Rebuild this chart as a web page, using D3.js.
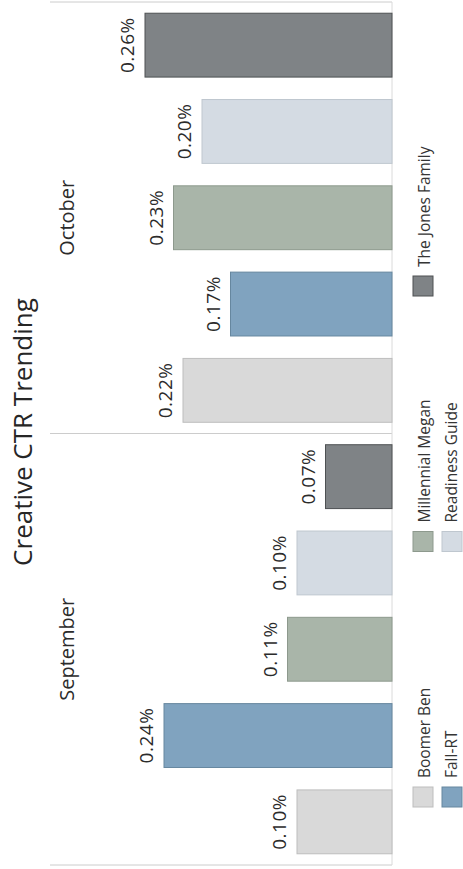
<!DOCTYPE html>
<html>
<head>
<meta charset="utf-8">
<script src="https://cdn.jsdelivr.net/npm/d3@7"></script>
<style>
  body { margin: 0; background: #fff; }
  text { font-family: "Open Sans", "Noto Sans", sans-serif; fill: #2b2b2b; }
</style>
</head>
<body>
<svg id="chart" width="463" height="869"></svg>
<script>
// Monthly click-through rate (%) per creative
const months = ["September", "October"];
const creatives = ["Boomer Ben", "Fall-RT", "Millennial Megan", "Readiness Guide", "The Jones Family"];
const septemberCTR = [0.10, 0.24, 0.11, 0.10, 0.07];
const octoberCTR = [0.22, 0.17, 0.23, 0.20, 0.26];
const fillColors = ["#d9d9d9", "#80a3bf", "#a9b5a9", "#d4dbe3", "#7f8386"];
const edgeColors = ["#bdbdbd", "#66879f", "#8d998d", "#bfc7cf", "#4e5153"];

const monthValues = { September: septemberCTR, October: octoberCTR };
const rows = months.flatMap(m => creatives.map((c, i) => ({ month: m, creative: c, value: monthValues[m][i], idx: i })));

const W = 869, H = 463;            // landscape frame, turned to read bottom-up
const svg = d3.select("#chart");
const g = svg.append("g").attr("transform", `translate(0,${W}) rotate(-90)`);

const x0 = d3.scaleBand().domain(months).range([4, 867]).padding(0);
const x1 = d3.scaleBand().domain(creatives).range([0, x0.bandwidth()])
  .paddingInner(0.26).paddingOuter(0.13);
const y = d3.scaleLinear().domain([0, 0.36]).range([392, 50]);

// pane dividers and baseline
const dividers = [x0.range()[0], x0("October"), x0.range()[1]];
g.selectAll("line.divider").data(dividers).join("line")
  .attr("class", "divider")
  .attr("x1", d => d).attr("x2", d => d)
  .attr("y1", y.range()[1]).attr("y2", y(0))
  .attr("stroke", "#cccccc").attr("stroke-width", 1);
g.append("line")
  .attr("x1", x0.range()[0]).attr("x2", x0.range()[1])
  .attr("y1", y(0)).attr("y2", y(0))
  .attr("stroke", "#dadada").attr("stroke-width", 1);

// title
g.append("text")
  .attr("x", 437).attr("y", 32)
  .attr("text-anchor", "middle")
  .attr("font-size", 26)
  .style("fill", "#262626")
  .text("Creative CTR Trending");

// month headers
g.selectAll("text.month").data(months).join("text")
  .attr("class", "month")
  .attr("x", d => x0(d) + x0.bandwidth() / 2)
  .attr("y", 74)
  .attr("text-anchor", "middle")
  .attr("font-size", 20)
  .text(d => d);

// bars
g.selectAll("rect.bar").data(rows).join("rect")
  .attr("class", "bar")
  .attr("x", d => x0(d.month) + x1(d.creative))
  .attr("width", x1.bandwidth())
  .attr("y", d => y(d.value))
  .attr("height", d => y(0) - y(d.value))
  .attr("fill", d => fillColors[d.idx])
  .attr("stroke", d => edgeColors[d.idx])
  .attr("stroke-width", 1);

// value labels
g.selectAll("text.value").data(rows).join("text")
  .attr("class", "value")
  .attr("x", d => x0(d.month) + x1(d.creative) + x1.bandwidth() / 2)
  .attr("y", d => y(d.value) - 11)
  .attr("text-anchor", "middle")
  .attr("font-size", 19)
  .style("letter-spacing", "0.5px")
  .text(d => d.value.toFixed(2) + "%");

// legend, filled column by column, two rows
const legend = g.selectAll("g.legend").data(creatives).join("g")
  .attr("class", "legend")
  .attr("transform", (d, i) => `translate(${62 + Math.floor(i / 2) * 255.5},${413 + (i % 2) * 29})`);
legend.append("rect")
  .attr("width", 20).attr("height", 20)
  .attr("fill", (d, i) => fillColors[i])
  .attr("stroke", (d, i) => edgeColors[i])
  .attr("stroke-width", 1);
legend.append("text")
  .attr("x", 29).attr("y", (d, i) => i % 2 ? 15 : 17)
  .attr("font-size", 15.5)
  .style("fill", "#353535")
  .text(d => d);
</script>
</body>
</html>
